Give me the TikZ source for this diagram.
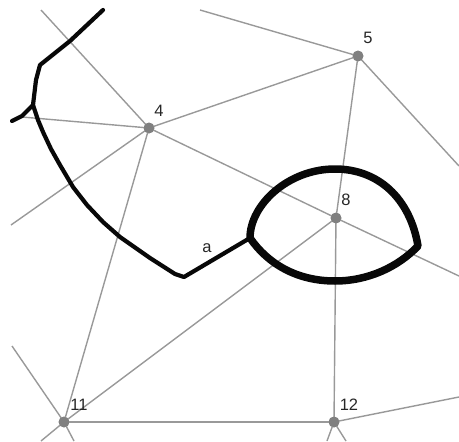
\documentclass[tikz,border=0pt]{standalone}
\usepackage{fontspec}
\setmainfont{Liberation Sans}
\usetikzlibrary{calc}
\definecolor{edgegray}{gray}{0.6}
\definecolor{dotgray}{gray}{0.5}
\definecolor{inkblack}{gray}{0.03}
\definecolor{labelgray}{gray}{0.15}
\tikzset{
  site/.style={circle,fill=dotgray,inner sep=0pt,minimum size=11pt},
  edge/.style={draw=edgegray,line width=1.4pt},
  wall/.style={draw=inkblack,line width=4.2pt,line join=round,line cap=round},
  loopwall/.style={draw=inkblack,line width=7.5pt,line join=round},
  lab/.style={text=labelgray,font=\fontsize{16.5pt}{17pt}\selectfont,inner sep=0pt}
}
\begin{document}
\begin{tikzpicture}[x=1pt,y=-1pt]
\useasboundingbox (0,0) rectangle (459,442);
% sites
\node[site] (n4) at (149,128) {};
\node[site] (n5) at (358,56) {};
\node[site] (n8) at (336,218) {};
\node[site] (n11) at (64,422) {};
\node[site] (n12) at (334,422) {};
% free ends
\coordinate (a1) at (41,10);
\coordinate (a2) at (22,117);
\coordinate (a3) at (11,225);
\coordinate (a4) at (200,10);
\coordinate (a5) at (459,166);
\coordinate (a6) at (459,276);
\coordinate (a7) at (459,397);
\coordinate (a8) at (12,346);
\coordinate (a9) at (41,441);
\coordinate (a10) at (74,441);
\coordinate (a11) at (327,441);
\coordinate (a12) at (346,441);
% edges
\draw[edge] (n4.center) -- (a1);
\draw[edge] (n4.center) -- (a2);
\draw[edge] (n4.center) -- (a3);
\draw[edge] (n4.center) -- (n5.center);
\draw[edge] (n4.center) -- (n8.center);
\draw[edge] (n4.center) -- (n11.center);
\draw[edge] (n5.center) -- (a4);
\draw[edge] (n5.center) -- (a5);
\draw[edge] (n5.center) -- (n8.center);
\draw[edge] (n8.center) -- (a6);
\draw[edge] (n8.center) -- (n11.center);
\draw[edge] (n8.center) -- (n12.center);
\draw[edge] (n11.center) -- (n12.center);
\draw[edge] (n11.center) -- (a8);
\draw[edge] (n11.center) -- (a9);
\draw[edge] (n11.center) -- (a10);
\draw[edge] (n12.center) -- (a7);
\draw[edge] (n12.center) -- (a11);
\draw[edge] (n12.center) -- (a12);
\foreach \n in {n4,n5,n8,n11,n12} \fill[dotgray] (\n) circle (5.2pt);
% thick boundaries
\coordinate (w1) at (103,10);
\coordinate (w2) at (40,65);
\coordinate (w3) at (33,105);
\coordinate (w4) at (12,121);
\coordinate (w5) at (184,277);
\coordinate (w6) at (250,238);
\coordinate (w7) at (418,246);
\draw[wall] (w1) -- (70,41) -- (w2) -- (36,80) -- (w3);
\draw[wall] (w4) -- (22,116) -- (w3);
\draw[wall] (w3) -- (38,120) -- (43,132) -- (51,149) -- (60,165) -- (73,187)
  -- (87,205) -- (103,222) -- (120,237) -- (150,258) -- (175,274) -- (w5) -- (w6);
\draw[loopwall] (w6) .. controls (250,205) and (288,169) .. (335,169)
  .. controls (378,169) and (410,198) .. (w7)
  .. controls (398,267) and (368,281) .. (335,281)
  .. controls (297,281) and (268,264) .. (w6) -- cycle;
% labels
\node[lab] (l4) at (159,111) {4};
\node[lab] (l5) at (368,38) {5};
\node[lab] (l8) at (346,200) {8};
\node[lab] (l11) at (79,405) {11};
\node[lab] (l12) at (349,405) {12};
\node[lab] (la) at (207,248) {a};
\end{tikzpicture}
\end{document}
